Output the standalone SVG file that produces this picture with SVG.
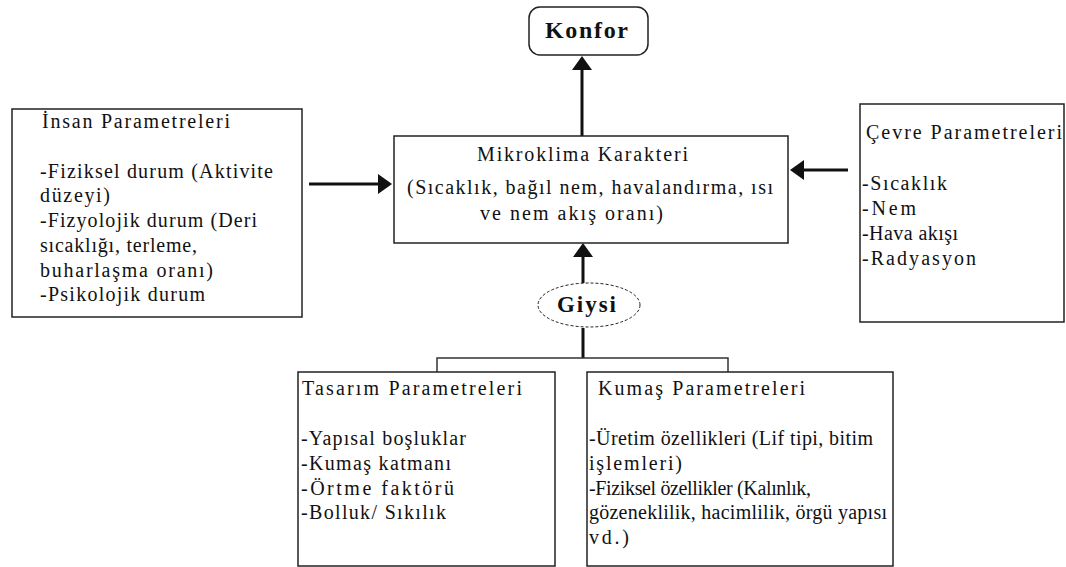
<svg xmlns="http://www.w3.org/2000/svg" width="1066" height="567" viewBox="0 0 1066 567">
<style>
.box{fill:#fff;stroke:#222;stroke-width:1.5}
.t{font-family:"Liberation Serif","Times New Roman",serif;font-size:20px;fill:#111}
.b{font-family:"Liberation Serif","Times New Roman",serif;font-weight:bold;fill:#111}
.c{fill:none;stroke:#111;stroke-width:3}
.thin{fill:none;stroke:#333;stroke-width:1.5}
</style>
<defs>
<marker id="ah" markerUnits="userSpaceOnUse" markerWidth="16" markerHeight="22" refX="11" refY="10" orient="auto">
<path d="M0,0 L14,10 L0,20 z" fill="#111"/>
</marker>
<clipPath id="kclip"><rect x="587" y="372" width="306" height="194"/></clipPath>
</defs>
<g id="connectors">
<line class="c" x1="582" y1="136" x2="582" y2="59" marker-end="url(#ah)"/>
<line class="c" x1="309" y1="184" x2="389" y2="184" marker-end="url(#ah)"/>
<line class="c" x1="848" y1="170" x2="793" y2="170" marker-end="url(#ah)"/>
<line class="c" x1="583" y1="283" x2="583" y2="246" marker-end="url(#ah)"/>
<line class="c" x1="583" y1="328" x2="583" y2="358"/>
<polyline class="thin" points="437,372 437,358 728,358 728,372"/>
</g>
<g id="konfor">
<rect class="box" x="529" y="7" width="119" height="48" rx="11"/>
<text class="b" x="545" y="38" font-size="24" textLength="83" lengthAdjust="spacing">Konfor</text>
</g>
<g id="insan">
<rect class="box" x="12" y="109" width="290" height="208"/>
<text class="t" x="42" y="128" textLength="188" lengthAdjust="spacing">İnsan Parametreleri</text>
<text class="t" x="40" y="178" textLength="233" lengthAdjust="spacing">-Fiziksel durum (Aktivite</text>
<text class="t" x="40" y="202" textLength="70" lengthAdjust="spacing">düzeyi)</text>
<text class="t" x="40" y="227" textLength="217" lengthAdjust="spacing">-Fizyolojik durum (Deri</text>
<text class="t" x="40" y="252" textLength="157" lengthAdjust="spacing">sıcaklığı, terleme,</text>
<text class="t" x="40" y="277" textLength="173" lengthAdjust="spacing">buharlaşma oranı)</text>
<text class="t" x="40" y="301" textLength="165" lengthAdjust="spacing">-Psikolojik durum</text>
</g>
<g id="mikroklima">
<rect class="box" x="394" y="136" width="394" height="107"/>
<text class="t" x="477" y="161" textLength="211" lengthAdjust="spacing">Mikroklima Karakteri</text>
<text class="t" x="407" y="194" textLength="366" lengthAdjust="spacing">(Sıcaklık, bağıl nem, havalandırma, ısı</text>
<text class="t" x="480" y="220" textLength="183" lengthAdjust="spacing">ve nem akış oranı)</text>
</g>
<g id="cevre">
<rect class="box" x="860" y="104" width="204" height="218"/>
<text class="t" x="866" y="139" textLength="196" lengthAdjust="spacing">Çevre Parametreleri</text>
<text class="t" x="862" y="190" textLength="85" lengthAdjust="spacing">-Sıcaklık</text>
<text class="t" x="862" y="215" textLength="54" lengthAdjust="spacing">-Nem</text>
<text class="t" x="862" y="240" textLength="96" lengthAdjust="spacing">-Hava akışı</text>
<text class="t" x="862" y="265" textLength="114" lengthAdjust="spacing">-Radyasyon</text>
</g>
<g id="giysi">
<ellipse cx="589" cy="305" rx="51" ry="22" fill="#fff" stroke="#222" stroke-width="1" stroke-dasharray="3,2"/>
<text class="b" x="557" y="312" font-size="23" textLength="59" lengthAdjust="spacing">Giysi</text>
</g>
<g id="tasarim">
<rect class="box" x="298" y="372" width="257" height="194"/>
<text class="t" x="302" y="395" textLength="220" lengthAdjust="spacing">Tasarım Parametreleri</text>
<text class="t" x="301" y="445" textLength="165" lengthAdjust="spacing">-Yapısal boşluklar</text>
<text class="t" x="301" y="470" textLength="150" lengthAdjust="spacing">-Kumaş katmanı</text>
<text class="t" x="301" y="495" textLength="153" lengthAdjust="spacing">-Örtme faktörü</text>
<text class="t" x="301" y="519" textLength="145" lengthAdjust="spacing">-Bolluk/ Sıkılık</text>
</g>
<g id="kumas">
<rect class="box" x="587" y="372" width="306" height="194"/>
<g clip-path="url(#kclip)">
<text class="t" x="598" y="395" textLength="207" lengthAdjust="spacing">Kumaş Parametreleri</text>
<text class="t" x="589" y="445" textLength="284" lengthAdjust="spacing">-Üretim özellikleri (Lif tipi, bitim</text>
<text class="t" x="589" y="470" textLength="93" lengthAdjust="spacing">işlemleri)</text>
<text class="t" x="589" y="495" textLength="222" lengthAdjust="spacing">-Fiziksel özellikler (Kalınlık,</text>
<text class="t" x="589" y="519" textLength="298" lengthAdjust="spacing">gözeneklilik, hacimlilik, örgü yapısı</text>
<text class="t" x="589" y="544" textLength="40" lengthAdjust="spacing">vd.)</text>
</g>
</g>
</svg>
